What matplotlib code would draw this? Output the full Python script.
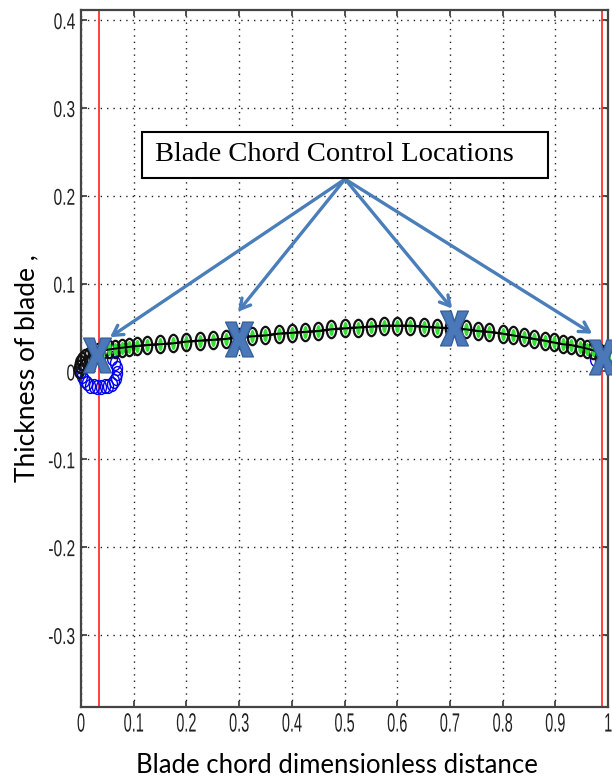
import numpy as np
import matplotlib
matplotlib.use('Agg')
import matplotlib.pyplot as plt
from matplotlib.path import Path
from matplotlib.markers import MarkerStyle
from matplotlib.transforms import Affine2D
from matplotlib.patheffects import AbstractPathEffect
from matplotlib.patches import Rectangle

plt.rcParams['axes.unicode_minus'] = False

# ---------------- data ----------------
x_upper = [-0.004, -0.002, 0.002, 0.008, 0.015, 0.023, 0.032, 0.042, 0.053, 0.065,
           0.078, 0.092, 0.107, 0.125, 0.15, 0.175, 0.2, 0.225, 0.25, 0.275,
           0.3, 0.325, 0.35, 0.375, 0.4, 0.425, 0.45, 0.475, 0.5, 0.525,
           0.55, 0.575, 0.6, 0.625, 0.65, 0.675, 0.7, 0.73, 0.753, 0.775,
           0.8, 0.82, 0.84, 0.86, 0.88, 0.897, 0.914, 0.93, 0.946, 0.96,
           0.972, 0.983, 0.992, 1.0]
y_upper = [0.003, 0.008, 0.012, 0.015, 0.018, 0.020, 0.022, 0.024, 0.025, 0.026,
           0.027, 0.028, 0.029, 0.030, 0.031, 0.032, 0.034, 0.035, 0.036, 0.037,
           0.039, 0.040, 0.041, 0.043, 0.044, 0.045, 0.046, 0.048, 0.049, 0.050,
           0.051, 0.052, 0.052, 0.052, 0.051, 0.050, 0.049, 0.048, 0.046, 0.045,
           0.043, 0.041, 0.039, 0.037, 0.035, 0.033, 0.031, 0.030, 0.028, 0.026,
           0.024, 0.022, 0.020, 0.018]

x_lower = [0.0, 0.002, 0.006, 0.011, 0.017, 0.024, 0.031, 0.038, 0.045, 0.052,
           0.058, 0.063, 0.067, 0.069, 0.068, 0.064, 0.058, 0.975, 0.985]
y_lower = [0.0, -0.005, -0.010, -0.013, -0.016, -0.017, -0.018, -0.018, -0.017, -0.016,
           -0.014, -0.011, -0.007, -0.002, 0.004, 0.010, 0.015, 0.014, 0.012]

x_ctrl = [0.03, 0.3, 0.708, 0.99]
y_ctrl = [0.019, 0.037, 0.049, 0.017]

x_arrow_tip = [0.055, 0.298, 0.704, 0.970]
y_arrow_tip = [0.039, 0.068, 0.0716, 0.043]
arrow_start = (0.501, 0.219)

red_lines = [0.0336, 0.988]

x_ticks = [0, 0.1, 0.2, 0.3, 0.4, 0.5, 0.6, 0.7, 0.8, 0.9, 1.0]
x_tick_labels = ['0', '0.1', '0.2', '0.3', '0.4', '0.5', '0.6', '0.7', '0.8', '0.9', '1']
y_ticks = [-0.3, -0.2, -0.1, 0, 0.1, 0.2, 0.3, 0.4]
y_tick_labels = ['-0.3', '-0.2', '-0.1', '0', '0.1', '0.2', '0.3', '0.4']

box_text = 'Blade Chord Control Locations'
x_label = 'Blade chord dimensionless distance'
y_label = 'Thickness of blade ,'


class Squeeze(AbstractPathEffect):
    """Horizontally condense glyphs (narrow MATLAB-like tick font)."""
    def __init__(self, sx, anchor='center'):
        super().__init__()
        self.sx = sx
        self.anchor = anchor

    def draw_path(self, renderer, gc, tpath, affine, rgbFace=None):
        ext = tpath.get_extents()
        if self.anchor == 'right':
            cx = ext.x1
        elif self.anchor == 'left':
            cx = ext.x0
        else:
            cx = (ext.x0 + ext.x1) / 2
        t = Affine2D().translate(-cx, 0).scale(self.sx, 1).translate(cx, 0) + affine
        renderer.draw_path(gc, tpath, t, rgbFace)


# markers
circ = Path.unit_circle()
ell_black = MarkerStyle(Affine2D().scale(0.55, 1.0).transform_path(circ))
ell_green = MarkerStyle(Affine2D().scale(0.36, 1.0).transform_path(circ))
ell_blue = MarkerStyle(Affine2D().scale(0.72, 1.0).transform_path(circ))
# bold letter-like X
xv = [(-0.5, 0.5), (-0.12, 0.5), (0.0, 0.2), (0.12, 0.5), (0.5, 0.5),
      (0.2, 0.0), (0.5, -0.5), (0.12, -0.5), (0.0, -0.2), (-0.12, -0.5),
      (-0.5, -0.5), (-0.2, 0.0), (-0.5, 0.5)]
x_path = Path(xv, [Path.MOVETO] + [Path.LINETO] * 11 + [Path.CLOSEPOLY])
x_marker = MarkerStyle(Affine2D().scale(0.8, 1.0).transform_path(x_path))

fig = plt.figure(figsize=(6.12, 7.84), dpi=100)
ax = fig.add_axes([81 / 612, 1 - 707 / 784, (608 - 81) / 612, (707 - 10) / 784])
ax.set_xlim(0, 1)
ax.set_ylim(-0.382, 0.4115)

ax.set_xticks(x_ticks)
ax.set_xticklabels(x_tick_labels)
ax.set_yticks(y_ticks)
ax.set_yticklabels(y_tick_labels)
ax.tick_params(direction='in', length=4.5, width=1.2, top=True, right=True,
               color='#333333')
ax.tick_params(axis='x', pad=4, labelsize=19)
ax.tick_params(axis='y', pad=4, labelsize=16.5)
for lab in ax.get_xticklabels():
    lab.set_family('Liberation Sans')
    lab.set_color('#222222')
    lab.set_path_effects([Squeeze(0.55, 'center')])
for lab in ax.get_yticklabels():
    lab.set_family('Liberation Sans')
    lab.set_color('#222222')
    lab.set_path_effects([Squeeze(0.68, 'right')])

for s in ax.spines.values():
    s.set_color('#444444')
    s.set_linewidth(1.6)

ax.grid(True, color='#222222', linestyle=(0, (1, 3.6)), linewidth=1.0)
ax.set_axisbelow(True)

for xr in red_lines:
    ax.axvline(xr, color='#FF3030', lw=1.3, zorder=2)

# lower surface (blue circles)
ax.plot(x_lower, y_lower, ls='none', marker=ell_blue, ms=10, mfc='none',
        mec='#0000EE', mew=1.0, zorder=3, clip_on=False)

# upper surface
ax.plot(x_upper, y_upper, color='black', lw=1.6, marker=ell_black, ms=12.5,
        mfc='none', mec='#111111', mew=1.6, zorder=4, clip_on=False)
xg = [xv_ for xv_ in x_upper if xv_ >= 0.04]
yg = [yv_ for xv_, yv_ in zip(x_upper, y_upper) if xv_ >= 0.04]
ax.plot(xg, yg, ls='none', marker=ell_green, ms=9.5, mfc='#33E033', mec='none',
        zorder=5, clip_on=False)
ax.plot(xg, yg, color='black', lw=1.4, zorder=5.5, clip_on=False)

# control points
ax.plot(x_ctrl, y_ctrl, ls='none', marker=x_marker, ms=25, mfc='#4A78B8',
        mec='#37619C', mew=1.0, zorder=6, clip_on=False)

# arrows
for xt, yt in zip(x_arrow_tip, y_arrow_tip):
    ax.annotate('', xy=(xt, yt), xytext=arrow_start,
                arrowprops=dict(arrowstyle='->,head_length=0.7,head_width=0.4',
                                color='#4A7EBB', lw=2.4, shrinkA=0, shrinkB=0),
                zorder=7)

# text box
ax.add_patch(Rectangle((0.1157, 0.2205), 0.886 - 0.1157, 0.2727 - 0.2205,
                       facecolor='white', edgecolor='black', lw=1.5, zorder=8))
ax.text(0.140, 0.2466, box_text, ha='left', va='center', fontsize=20.5,
        family='Liberation Serif', zorder=9)

fig.text(0.551, 0.023, x_label, ha='center', va='center', fontsize=18.5, family='Lato')
fig.text(0.043, 0.531, y_label, ha='center', va='center', fontsize=19, family='Lato',
         rotation=90)

fig.savefig('out.png', dpi=100)
